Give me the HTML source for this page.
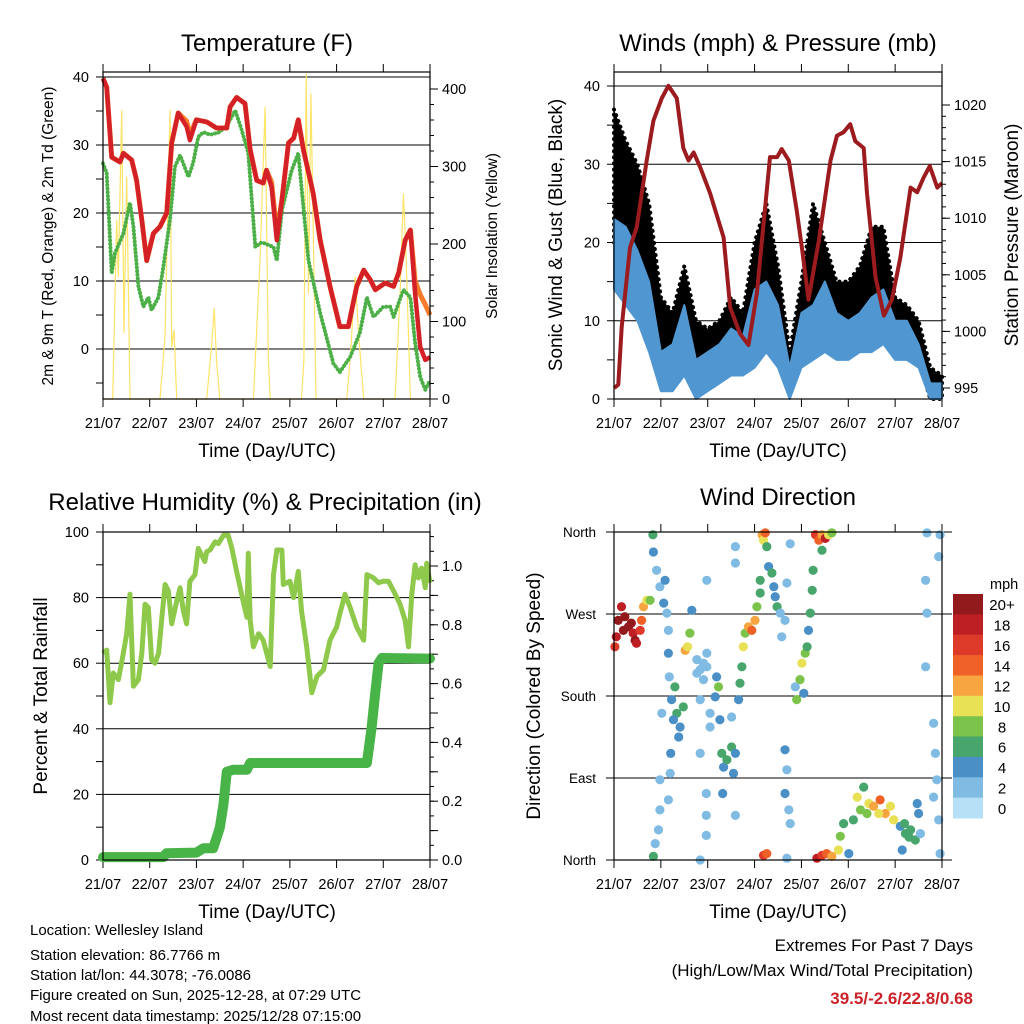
<!DOCTYPE html>
<html><head><meta charset="utf-8"><style>
html,body{margin:0;padding:0;background:#fff;}
svg{display:block;font-family:"Liberation Sans",Arial,sans-serif;}
</style></head><body>
<svg id="c" width="1024" height="1024" viewBox="0 0 1024 1024">
<rect width="1024" height="1024" fill="#fff"/>
<g font-size="24" text-anchor="middle" fill="#000">
<text x="267" y="51">Temperature (F)</text>
<text x="778" y="51">Winds (mph) &amp; Pressure (mb)</text>
<text x="265" y="510">Relative Humidity (%) &amp; Precipitation (in)</text>
<text x="778" y="505">Wind Direction</text>
</g>
<g font-size="19" text-anchor="middle">
<text x="267" y="457">Time (Day/UTC)</text>
<text x="778" y="457">Time (Day/UTC)</text>
<text x="267" y="918">Time (Day/UTC)</text>
<text x="778" y="918">Time (Day/UTC)</text>
<text transform="translate(562,235) rotate(-90)">Sonic Wind &amp; Gust (Blue, Black)</text>
<text transform="translate(1018,235) rotate(-90)">Station Pressure (Maroon)</text>
<text transform="translate(47,696) rotate(-90)">Percent &amp; Total Rainfall</text>
<text transform="translate(540,696) rotate(-90)">Direction (Colored By Speed)</text>
</g>
<g font-size="15.5" text-anchor="middle">
<text transform="translate(53,236) rotate(-90)">2m &amp; 9m T (Red, Orange) &amp; 2m Td (Green)</text>
<text transform="translate(497,236) rotate(-90)">Solar Insolation (Yellow)</text>
</g>
<g font-size="15" fill="#000">
<text x="30" y="935">Location: Wellesley Island</text>
<text x="30" y="960">Station elevation: 86.7766 m</text>
<text x="30" y="980">Station lat/lon: 44.3078; -76.0086</text>
<text x="30" y="1000">Figure created on Sun, 2025-12-28, at 07:29 UTC</text>
<text x="30" y="1021">Most recent data timestamp: 2025/12/28 07:15:00</text>
</g>
<g font-size="17" text-anchor="end">
<text x="973" y="951">Extremes For Past 7 Days</text>
<text x="973" y="976">(High/Low/Max Wind/Total Precipitation)</text>
<text x="973" y="1004" fill="#cc2229" font-weight="bold">39.5/-2.6/22.8/0.68</text>
</g>
<g id="plots"></g>
</svg>
<script>
// ---------- data ----------
const dayLabels = ["21/07","22/07","23/07","24/07","25/07","26/07","27/07","28/07"];
const tempT = [0,0.079,0.186,0.364,0.436,0.614,0.72,0.83,0.935,1.078,1.22,1.363,1.47,1.61,1.79,1.86,2.0,2.22,2.43,2.65,2.72,2.86,3.04,3.15,3.29,3.43,3.5,3.61,3.72,3.83,3.97,4.08,4.18,4.29,4.5,4.65,4.86,5.07,5.25,5.43,5.58,5.72,5.83,6.04,6.22,6.33,6.47,6.58,6.68,6.79,6.9,7.0];
const temp2m = [39.8,38.5,28.2,27.5,28.8,27.8,24.8,19,13,17,18,20,30.3,34.7,32.7,30.7,33.7,33.4,32.5,32.5,35.6,37,36.1,29.3,24.8,24.4,26.3,23.8,16,21.9,30.3,31,33.7,29.3,22.9,16,9.2,3.3,3.3,9.2,11.6,10.2,8.7,9.7,9.2,11.2,16,17.5,8.2,0.3,-1.6,-1.2];
const temp9m = [39.8,38.5,28.2,27.5,28.8,27.8,24.8,19,13,17,18,20,30.3,34.7,33.5,31.5,33.7,33.4,32.5,32.5,35.6,37,36.1,29.3,24.8,24.4,26.3,24.5,17,21.9,30.3,31,33.7,29.3,22.9,16,9.2,3.3,3.3,9.2,11.6,10.2,8.7,9.7,9.2,11.2,16,17.5,10,8,6.5,5];
const dewT = [0,0.079,0.186,0.257,0.436,0.578,0.65,0.757,0.864,0.97,1.04,1.185,1.29,1.435,1.54,1.65,1.83,1.93,2.04,2.15,2.29,2.5,2.68,2.83,2.97,3.11,3.26,3.4,3.54,3.65,3.72,3.83,4.04,4.18,4.25,4.4,4.65,4.93,5.07,5.29,5.5,5.65,5.79,6.0,6.15,6.22,6.43,6.58,6.68,6.79,6.9,7.0];
const dewV = [27.3,25.9,11.2,14.1,17,21.5,18,9.2,6.2,7.6,5.7,7.6,12,19,26.8,28.5,25.3,27.4,31.2,31.9,31.5,31.9,33.2,35.1,32.2,28.8,15,15.7,15.3,15,13,20.4,26.3,28.8,23.8,13,5.3,-2.1,-3.4,-1.2,2.4,7.6,4.7,6.2,6.2,4.7,8.7,7.6,0.9,-4.1,-6,-4.6];
const solarT = [0,0.207,0.293,0.328,0.4,0.45,0.507,0.578,1.22,1.328,1.435,1.47,1.52,1.578,2.22,2.33,2.38,2.43,2.5,3.22,3.36,3.47,3.54,3.58,4.25,4.3,4.35,4.4,4.45,4.5,4.56,5.22,5.3,5.4,5.47,5.58,6.25,6.36,6.43,6.49,6.58,7.0];
const solarV = [0,0,231,158,373,85,287,0,0,80,373,67,89,0,0,72,117,50,0,0,179,377,50,0,0,50,420,136,394,222,0,0,59,158,85,0,0,136,265,179,0,0];
const presT = [0.007,0.092,0.164,0.342,0.484,0.698,0.84,1.02,1.16,1.34,1.48,1.59,1.7,1.84,2.05,2.34,2.48,2.69,2.87,3.05,3.33,3.48,3.58,3.73,3.9,4.01,4.15,4.37,4.62,4.76,4.9,5.04,5.15,5.33,5.4,5.58,5.76,5.93,6.11,6.33,6.47,6.61,6.74,6.9,7.0];
const presV = [995,995.3,1000.4,1007.4,1009.2,1015.1,1018.6,1020.6,1021.7,1020.6,1016.2,1015.1,1015.8,1014.5,1012.2,1008.3,1002.1,999.8,998.8,1003.4,1015.4,1015.4,1016.1,1015.1,1010.7,1007.4,1002.8,1008,1015.1,1017.3,1017.6,1018.3,1016.8,1016.2,1012.2,1004.8,1001.4,1002.8,1006.5,1012.7,1012.3,1013.6,1014.6,1012.7,1013.1];
const windT = [0,0.25,0.5,0.75,1.0,1.25,1.5,1.75,2.0,2.25,2.5,2.75,3.0,3.25,3.5,3.75,4.0,4.25,4.5,4.75,5.0,5.25,5.5,5.75,6.0,6.25,6.5,6.75,7.0];
const windLo = [14,12,10,6,1,1,3,0,1,2,3,3,4,6,4,0,4,5,6,5,5,6,6,7,5,5,4,0,0];
const windHi = [23,22,19,15,6,7,12,5,6,7,9,8,14,15,12,4,11,12,15,11,10,11,13,14,10,10,7,2,2];
const gustLo = [20,18,15,10,3,3,6,1,2,3,5,5,10,11,7,1,8,10,9,8,9,10,10,10,7,6,5,0,0];
const gustHi = [37,33,30,25,13,11,17,10,9,10,13,11,20,25,17,6,15,25,20,15,15,17,22,22,13,12,10,4,3];
const rhT = [0,0.079,0.15,0.22,0.33,0.435,0.507,0.578,0.65,0.757,0.83,0.9,0.97,1.04,1.11,1.19,1.26,1.33,1.4,1.47,1.58,1.65,1.72,1.79,1.86,1.97,2.04,2.11,2.18,2.22,2.29,2.4,2.47,2.58,2.68,2.76,2.86,3.0,3.08,3.11,3.15,3.22,3.33,3.43,3.58,3.65,3.72,3.83,3.86,4.0,4.08,4.18,4.25,4.36,4.47,4.58,4.72,4.86,5.0,5.07,5.18,5.29,5.43,5.58,5.65,5.79,5.9,6.0,6.11,6.22,6.36,6.47,6.54,6.61,6.68,6.75,6.82,6.9,6.93,7.0];
const rhV = [63,64,48,57,55,63,69,81,53,55,63,78,77,61,60,63,74,84,82,72,79,83,76,72,85,87,95,93,91,94,94.5,97,96.5,99,99,95,88,79,74,93.5,73,65,69,67,59,87,94.5,94.5,84,85,80,88,76,65,51,56,58,67,71,75,81,77,71,67,87,86,84.5,85,85,82,78,73,65,81,90,86,89,83,90.5,84.5];
const rainT = [0,1.29,1.36,2.0,2.15,2.36,2.5,2.58,2.65,2.79,3.08,3.15,5.65,5.75,5.83,5.9,5.97,7.0];
const rainV = [0.01,0.01,0.023,0.025,0.04,0.04,0.11,0.19,0.3,0.307,0.307,0.33,0.33,0.45,0.57,0.67,0.687,0.685];
const dirDay = [0.02,0.05,0.09,0.16,0.2,0.23,0.31,0.37,0.41,0.45,0.48,0.56,0.59,0.63,0.7,0.77,
 0.83,0.84,0.91,0.98,1.06,1.09,1.13,1.16,1.16,1.18,
 1.23,1.3,1.34,1.41,1.48,1.38,1.27,1.21,1.02,
 1.52,1.57,1.62,1.66,
 1.77,1.84,1.91,1.98,1.98,1.84,2.05,2.05,1.91,1.77,
 2.19,2.23,2.16,2.26,2.3,2.34,2.32,2.41,2.51,2.59,2.55,2.51,
 2.66,2.69,2.73,2.76,2.8,2.87,2.94,3.01,3.05,3.12,3.12,
 3.16,3.19,3.23,3.26,3.3,3.37,3.41,3.44,3.48,3.55,3.58,3.65,
 3.9,3.97,4.01,4.08,4.12,4.05,3.87,
 4.15,4.19,4.23,4.25,
 4.3,4.37,4.44,4.51,4.58,4.65,4.44,
 3.19,3.26,
 4.33,4.44,4.54,4.65,4.79,4.83,4.9,5.01,
 5.19,5.26,5.33,5.44,5.54,5.68,5.79,5.9,5.97,5.65,5.4,5.11,
 6.11,6.22,6.33,6.43,6.5,6.47,6.15,6.54,6.2,6.3,
 6.68,6.65,6.68,6.65,6.82,6.86,6.89,6.82,6.93,6.96,6.93,6.96,2.59,2.59,1.98,3.76,3.69,0.98,1.16,0.98,0.95,0.88,0.84,1.84,1.97,1.97,1.97,2.59,3.65,3.69,3.65,3.73,3.76,3.69,1.2,1.84];
const dirDeg = [234,245,263,278,252,267,256,260,249,241,238,252,263,278,285,285,
 357,338,318,300,282,307,271,252,227,201,
 176,190,161,146,168,135,154,117,161,
 230,234,249,274,
 220,209,198,227,212,176,161,146,216,205,
 201,190,179,154,117,102,73,110,124,117,95,157,
 176,194,212,234,249,256,252,263,278,293,307,
 357,351,359,344,322,315,300,289,278,271,245,263,
 176,198,216,227,234,183,190,
 252,271,296,318,
 357,351,357,353,357,359,340,
 5,7,
 2,5,7,4,11,26,40,7,
 69,55,80,62,59,66,51,59,44,51,51,44,
 37,29,33,22,51,62,11,29,40,25,
 359,307,271,212,150,117,88,69,44,7,333,357,344,326,307,347,304,88,66,55,33,18,4,0,73,49,27,49,121,99,73,55,40,2,95,117];
const dirSpd = [16,18,20,18,20,20,20,20,18,20,18,16,14,12,10,8,
 6,4,2,2,4,4,2,2,4,2,
 4,6,6,4,6,4,4,4,2,
 12,10,8,4,
 2,2,2,2,2,2,2,2,2,2,
 4,8,4,4,6,4,4,6,6,4,4,2,
 4,6,6,10,8,12,14,12,8,6,6,
 12,10,14,6,4,6,4,4,6,2,2,2,
 8,8,10,8,6,4,2,
 4,6,6,6,
 16,14,12,18,10,8,6,
 16,14,
 18,16,14,12,10,8,6,4,
 10,8,6,10,12,14,12,10,10,10,8,6,
 4,6,6,6,4,4,4,2,6,6,
 2,2,2,2,2,2,2,2,2,2,2,2,2,2,2,2,2,2,2,2,2,2,6,2,2,2,2,2,4,2,4,2,2,2,2,2];
const cbLabels = ["20+","18","16","14","12","10","8","6","4","2","0"];
const cbColors = ["#921a1d","#bd1f25","#de3a2a","#f06128","#f7a540","#e8e055","#7cc34c","#48a56c","#4a8fc6","#80bbe4","#b5e0f6"];

// ---------- helpers ----------
const NS="http://www.w3.org/2000/svg";
const root=document.getElementById('plots');
function mk(tag,attrs,parent){const e=document.createElementNS(NS,tag);for(const k in attrs)e.setAttribute(k,attrs[k]);(parent||root).appendChild(e);return e;}
function lin(d0,d1,r0,r1){return v=>r0+(v-d0)*(r1-r0)/(d1-d0);}
function pts(xs,ys,fx,fy){return xs.map((t,i)=>fx(t).toFixed(1)+","+fy(ys[i]).toFixed(1)).join(" ");}
function txt(x,y,s,anchor,size,name,parent){const e=mk('text',{x:x,y:y,'text-anchor':anchor,'font-size':size},parent);e.textContent=s;


return e;}

function frame(x0,x1,y0,y1,name){
  const g=mk('g',{});
  
  
  const fx=lin(0,7,x0,x1);
  for(let i=0;i<8;i++){
    const x=fx(i);
    mk('line',{x1:x,x2:x,y1:y1,y2:y1+8,stroke:'#000','stroke-width':1},g);
    mk('line',{x1:x,x2:x,y1:y0,y2:y0-8,stroke:'#000','stroke-width':1},g);
    txt(x,y1+29,dayLabels[i],'middle',14.5,'x-tick-label',g);
  }
  return {g,fx};
}
function box(g,x0,x1,y0,y1){
  const r=mk('rect',{x:x0,y:y0,width:x1-x0,height:y1-y0,fill:'none',stroke:'#000','stroke-width':1.2},g);
  
  
}
function hgrid(g,x0,x1,y){mk('line',{x1:x0,x2:x1,y1:y,y2:y,stroke:'#000','stroke-width':1},g);}
function yticks(g,x,vals,fy,dir,len){vals.forEach(v=>{const y=fy(v);mk('line',{x1:x,x2:x+dir*len,y1:y,y2:y,stroke:'#000','stroke-width':1},g);});}
function range(a,b,s){const r=[];for(let v=a;v<=b+1e-9;v+=s)r.push(+v.toFixed(4));return r;}

// ---------- Panel 1: Temperature ----------
(function(){
  const x0=103,x1=430,y0=72,y1=399;
  const {g,fx}=frame(x0,x1,y0,y1,'temperature-panel');
  const fy=lin(0,40,349,77), fs=lin(0,400,399,89);
  [0,10,20,30,40].forEach(v=>{hgrid(g,x0,x1,fy(v));txt(x0-14,fy(v)+5,String(v),'end',14.5,'y-tick-label',g);});
  yticks(g,x0,range(-5,40,5),fy,-1,7);
  yticks(g,x1,range(0,400,20),fs,1,4);
  yticks(g,x1,range(0,400,100),fs,1,8);
  [0,100,200,300,400].forEach(v=>txt(x1+12,fs(v)+5,String(v),'start',14.5,'right-tick-label',g));
  const sol=mk('polyline',{points:pts(solarT,solarV,fx,fs),fill:'none',stroke:'#fde466','stroke-width':1.2},g);
  
  
  const dw=mk('polyline',{points:pts(dewT,dewV,fx,fy),fill:'none',stroke:'#4caf47','stroke-width':4,'stroke-dasharray':'0.1 3.6','stroke-linecap':'round','stroke-linejoin':'round'},g);
  
  
  const o=mk('polyline',{points:pts(tempT,temp9m,fx,fy),fill:'none',stroke:'#f47c2a','stroke-width':5,'stroke-linejoin':'round'},g);
  
  
  const r=mk('polyline',{points:pts(tempT,temp2m,fx,fy),fill:'none',stroke:'#d42027','stroke-width':4.5,'stroke-linejoin':'round'},g);
  
  
  box(g,x0,x1,y0,y1);
})();

// ---------- Panel 2: Winds ----------
(function(){
  const x0=614,x1=942,y0=72,y1=399;
  const {g,fx}=frame(x0,x1,y0,y1,'winds-panel');
  const fy=lin(0,40,399,86), fp=lin(995,1020,388,105);
  [10,20,30,40].forEach(v=>hgrid(g,x0,x1,fy(v)));
  [0,10,20,30,40].forEach(v=>txt(x0-14,fy(v)+5,String(v),'end',14.5,'y-tick-label',g));
  yticks(g,x0,range(0,40,5),fy,-1,7);
  yticks(g,x1,range(995,1020,1),fp,1,4);
  yticks(g,x1,range(995,1020,5),fp,1,8);
  [995,1000,1005,1010,1015,1020].forEach(v=>txt(x1+12,fp(v)+5,String(v),'start',14.5,'right-tick-label',g));
  const gp=pts(windT,gustHi,fx,fy)+" "+pts(windT.slice().reverse(),gustLo.slice().reverse(),fx,fy);
  const ga=mk('polygon',{points:gp,fill:'#000',stroke:'#000','stroke-width':4,'stroke-linejoin':'round','stroke-dasharray':'0.1 6','stroke-linecap':'round'},g);
  
  
  const wp=pts(windT,windHi,fx,fy)+" "+pts(windT.slice().reverse(),windLo.slice().reverse(),fx,fy);
  const wa=mk('polygon',{points:wp,fill:'#5096d0',stroke:'#5096d0','stroke-width':2,'stroke-linejoin':'round'},g);
  
  
  const p=mk('polyline',{points:pts(presT,presV,fx,fp),fill:'none',stroke:'#9b1b1e','stroke-width':4,'stroke-linejoin':'round'},g);
  
  
  box(g,x0,x1,y0,y1);
})();

// ---------- Panel 3: Humidity ----------
(function(){
  const x0=103,x1=430,y0=532,y1=860;
  const {g,fx}=frame(x0,x1,y0,y1,'humidity-panel');
  const fy=lin(0,100,860,532), fr=lin(0,1,860,566);
  [20,40,60,80].forEach(v=>hgrid(g,x0,x1,fy(v)));
  [0,20,40,60,80,100].forEach(v=>txt(x0-14,fy(v)+5,String(v),'end',14.5,'y-tick-label',g));
  yticks(g,x0,range(0,100,10),fy,-1,7);
  yticks(g,x1,range(0,1.1,0.05),fr,1,4);
  yticks(g,x1,range(0,1,0.1),fr,1,8);
  [0,0.2,0.4,0.6,0.8,1.0].forEach(v=>txt(x1+12,fr(v)+5,v.toFixed(1),'start',14.5,'right-tick-label',g));
  const rh=mk('polyline',{points:pts(rhT,rhV,fx,fy),fill:'none',stroke:'#8fc94b','stroke-width':5,'stroke-linejoin':'round'},g);
  
  
  const rn=mk('polyline',{points:pts(rainT,rainV,fx,fr),fill:'none',stroke:'#48b347','stroke-width':10,'stroke-linejoin':'round','stroke-linecap':'round'},g);
  
  
  box(g,x0,x1,y0,y1);
})();

// ---------- Panel 4: Wind Direction ----------
(function(){
  const x0=614,x1=942,y0=532,y1=860;
  const {g,fx}=frame(x0,x1,y0,y1,'direction-panel');
  const fy=lin(0,360,860,532);
  const dl=["North","East","South","West","North"];
  [0,90,180,270,360].forEach((v,i)=>{mk('line',{x1:x0-8,x2:x1+10,y1:fy(v),y2:fy(v),stroke:'#000','stroke-width':1},g);
    txt(x0-18,fy(v)+5,dl[i],'end',13.5,'y-tick-label',g);});
  function col(s){let idx=Math.min(10,Math.floor(s/2));if(s>=20)idx=10;return cbColors[10-idx];}
  for(let i=0;i<dirDay.length;i++){
    const c=mk('circle',{cx:fx(dirDay[i]).toFixed(1),cy:fy(dirDeg[i]).toFixed(1),r:4.6,fill:col(dirSpd[i])},g);
    
    
  }
  box(g,x0,x1,y0,y1);
  const cb=mk('g',{});
  
  
  const h=(818-594)/cbColors.length;
  txt(990,589,'mph','start',14.5,'colorbar-unit',cb);
  cbColors.forEach((c,i)=>{
    const r=mk('rect',{x:953,y:(594+i*h).toFixed(1),width:30,height:(h+0.5).toFixed(1),fill:c},cb);
    
    
    txt(1002,594+i*h+h/2+6,cbLabels[i],'middle',15,'colorbar-label',cb);
  });
})();
</script>
</body></html>
